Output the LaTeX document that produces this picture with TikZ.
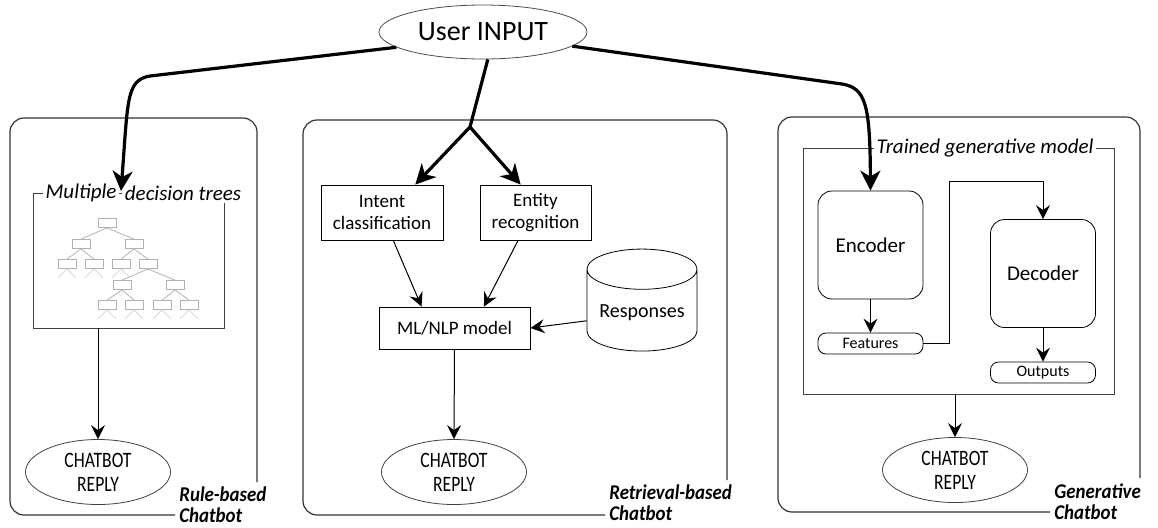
\documentclass[tikz,border=0pt]{standalone}
\usepackage{fontspec}
\setmainfont{Carlito}
\usepackage{graphicx}
\usetikzlibrary{arrows.meta, shapes.geometric, positioning}

\begin{document}
\begin{tikzpicture}[x=0.5pt, y=-0.5pt,
    every node/.style={inner sep=1pt, font=\fontsize{9.5}{11}\selectfont},
    box/.style={draw, rectangle, align=center, minimum height=27.5pt},
    rbox/.style={draw, rectangle, rounded corners=7pt, minimum width=52.5pt, minimum height=54pt, font=\fontsize{10.5}{12}\selectfont},
    pill/.style={draw, rectangle, rounded corners=4pt, minimum width=52.5pt, minimum height=10.5pt, inner sep=0pt, font=\fontsize{8}{9}\selectfont},
    reply/.style={draw=black!75, ellipse, minimum width=72.5pt, minimum height=32.5pt, inner sep=0pt, align=center, font=\fontsize{11}{12}\selectfont},
    frame/.style={draw=black!80, line width=0.6pt, rounded corners=7pt},
    title/.style={fill=white, inner sep=1.5pt, font=\fontsize{10.5}{12}\itshape},
    kind/.style={anchor=north west, align=left, inner sep=0pt, font=\fontsize{10.5}{10.5}\bfseries\itshape},
    tnode/.style={draw=gray!60, minimum width=9pt, minimum height=4.5pt, inner sep=0pt},
    tedge/.style={draw=gray!60, line width=0.4pt},
    tstub/.style={draw=gray!35, line width=0.4pt},
    big/.style={line width=1.6pt, -{Stealth[length=10pt, width=10pt, inset=3pt]}},
    small/.style={line width=0.5pt, -{Stealth[length=7pt, width=7pt, inset=2.5pt]}}]
  \useasboundingbox (0,0) rectangle (1158,527);

  \draw[frame] (175,515) -| (10,118) -| (257,482);
  \draw[frame] (605,515) -| (303,120) -| (727,480);
  \draw[frame] (1050,512) -| (778,117) -| (1140,478);
  \node[kind] (k1) at (179,486) {\scalebox{0.9}[1]{Rule-based}\\\scalebox{0.9}[1]{Chatbot}};
  \node[kind] (k2) at (609,484) {\scalebox{0.9}[1]{Retrieval-based}\\\scalebox{0.9}[1]{Chatbot}};
  \node[kind] (k3) at (1054,483) {\scalebox{0.9}[1]{Generative}\\\scalebox{0.9}[1]{Chatbot}};

  \node[draw=black!70, ellipse, minimum width=104pt, minimum height=27pt, inner sep=0pt, font=\fontsize{14}{16}\selectfont] (user) at (483,32) {User INPUT};

  % rule-based
  \node[draw=black!75, minimum width=95.5pt, minimum height=67.5pt] (mdt) at (128.5,260.5) {};
  \node[title] (mdt1) at (81,193) {Multiple};
  \node[title] (mdt2) at (183,193) {decision trees};
  \coordinate (gap) at (121,191);
  \foreach \n/\x/\y in {t1/107/223, t2/81/244, t3/134/244, t4/67/264, t5/94/264, t6/121/264,
      t7/148/264, t8/122/285, t9/175/285, t10/107/305, t11/134/305, t12/162/305, t13/189/305}
    \node[tnode] (\n) at (\x,\y) {};
  \foreach \a/\b in {t1/t2, t1/t3, t2/t4, t2/t5, t3/t6, t3/t7, t7/t8, t7/t9, t8/t10, t8/t11, t9/t12, t9/t13}
    \draw[tedge] (\a.south) -- (\b.north);
  \foreach \n in {t4, t5, t6, t10, t11, t12, t13} {
    \draw[tstub] (\n.south) -- ++(-9,9);
    \draw[tstub] (\n.south) -- ++(9,9);
  }
  \node[reply] (rep1) at (98,472) {\scalebox{0.8}[1]{CHATBOT}\\\scalebox{0.8}[1]{REPLY}};

  % retrieval-based
  \coordinate (junc) at (470,127);
  \node[box, minimum width=61pt] (intent) at (382,212.5) {Intent\\classification};
  \node[box, minimum width=55.5pt] (entity) at (535.5,212.5) {Entity\\recognition};
  \node[box, minimum width=75.5pt, minimum height=21pt] (ml) at (454.5,328) {ML/NLP model};
  \node[draw, cylinder, shape border rotate=90, aspect=0.45, minimum width=55pt, minimum height=51pt, font=\fontsize{10}{12}\selectfont] (resp) at (642,313) {Responses};
  \node[reply] (rep2) at (454,472) {\scalebox{0.8}[1]{CHATBOT}\\\scalebox{0.8}[1]{REPLY}};

  % generative
  \node[draw=black!75, minimum width=155.5pt, minimum height=123pt] (tgm) at (958.5,271) {};
  \node[title] (tgm1) at (985,148) {Trained generative model};
  \node[rbox] (enc) at (870.5,245) {Encoder};
  \node[rbox] (dec) at (1043,273.5) {Decoder};
  \node[pill] (feat) at (870.5,343.5) {Features};
  \node[pill] (outp) at (1043,372.5) {Outputs};
  \coordinate (bend) at (949,181);
  \node[reply] (rep3) at (955,470) {\scalebox{0.8}[1]{CHATBOT}\\\scalebox{0.8}[1]{REPLY}};

  \draw[big] (user.190) -- (150,76) .. controls (126,80) and (128,100) .. (gap);
  \draw[line width=1.6pt] (user.-80) -- (junc);
  \draw[big] (junc) -- (intent.40);
  \draw[big] (junc) -- (entity.118);
  \draw[big] (user.-9) -- (842,84) .. controls (866,88) and (870,105) .. (enc.north);

  \draw[small] (mdt.south -| rep1.north) -- (rep1.north);
  \draw[small] (intent.-68) -- (ml.147);
  \draw[small] (entity.-122) -- (ml.36);
  \draw[small] (resp.188) -- (ml.east);
  \draw[small] (ml.south) -- (rep2.north);
  \draw[small] (enc.south) -- (feat.north);
  \draw[small] (feat.east) -| (bend) -| (dec.north);
  \draw[small] (dec.south) -- (outp.north);
  \draw[small] (tgm.south -| rep3.north) -- (rep3.north);
\end{tikzpicture}
\end{document}
